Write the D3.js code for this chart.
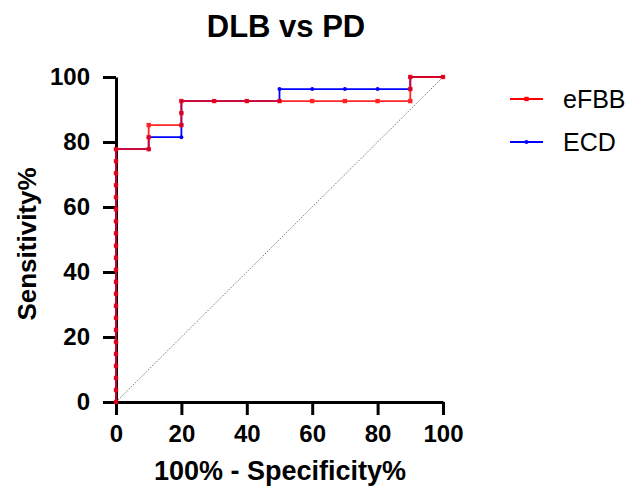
<!DOCTYPE html>
<html>
<head>
<meta charset="utf-8">
<script src="https://cdn.jsdelivr.net/npm/d3@7"></script>
<style>
  body { margin: 0; background: #fff; }
  text { font-family: "Liberation Sans", Arial, sans-serif; }
</style>
</head>
<body>
<div id="container"></div>
<script>
// data declaration
const w = 632;
const h = 487;
const margin = {top: 77, right: 189, bottom: 85, left: 116};
const xTicks = [0, 20, 40, 60, 80, 100];
const yTicks = [0, 20, 40, 60, 80, 100];

// eFBB: 100% - specificity, sensitivity
const efbbX = [0,0,0,0,0,0,0,0,0,0,0,0,0,0,0,0,0,0,0,0,0,0,10,10,10,20,20,20,30,40,50,60,70,80,90,90,90,100];
const efbbY = [0,3.7,7.4,11.1,14.8,18.5,22.2,25.9,29.6,33.3,37.0,40.7,44.4,48.1,51.9,55.6,59.3,63.0,66.7,70.4,74.1,77.8,77.8,81.5,85.2,85.2,88.9,92.6,92.6,92.6,92.6,92.6,92.6,92.6,92.6,96.3,100,100];

// ECD
const ecdX = [0,0,0,0,0,0,0,0,0,0,0,0,0,0,0,0,0,0,0,0,0,0,10,10,20,20,20,20,30,40,50,50,60,70,80,90,90,100];
const ecdY = [0,3.7,7.4,11.1,14.8,18.5,22.2,25.9,29.6,33.3,37.0,40.7,44.4,48.1,51.9,55.6,59.3,63.0,66.7,70.4,74.1,77.8,77.8,81.5,81.5,85.2,88.9,92.6,92.6,92.6,92.6,96.3,96.3,96.3,96.3,96.3,100,100];

const series = [
  {name: "ECD", color: "#0000ff", marker: "circle", xs: ecdX, ys: ecdY},
  {name: "eFBB", color: "#ff0000", marker: "square", xs: efbbX, ys: efbbY}
];
const legendOrder = ["eFBB", "ECD"];

const svg = d3.select("#container").append("svg").attr("width", w).attr("height", h);

const iw = w - margin.left - margin.right;
const ih = h - margin.top - margin.bottom;

const xScale = d3.scaleLinear().domain([0, 100]).range([margin.left, margin.left + iw]);
const yScale = d3.scaleLinear().domain([0, 100]).range([margin.top + ih, margin.top]);

// title
svg.append("text")
  .attr("x", 286).attr("y", 37)
  .attr("text-anchor", "middle")
  .style("font-size", "31px").style("font-weight", "bold")
  .text("DLB vs PD");

// diagonal reference line
svg.append("line")
  .attr("x1", xScale(0)).attr("y1", yScale(0))
  .attr("x2", xScale(100)).attr("y2", yScale(100))
  .style("stroke", "#777").style("stroke-width", 1)
  .style("stroke-dasharray", "1.5,1.5");

// axes
const xAxis = d3.axisBottom(xScale).tickValues(xTicks).tickSize(13).tickSizeOuter(0).tickPadding(10);
const yAxis = d3.axisLeft(yScale).tickValues(yTicks).tickSize(13).tickSizeOuter(0).tickPadding(13);

const gx = svg.append("g").attr("transform", "translate(0," + yScale(0) + ")").call(xAxis);
const gy = svg.append("g").attr("transform", "translate(" + xScale(0) + ",0)").call(yAxis);

[gx, gy].forEach(g => {
  g.select(".domain").style("stroke", "#000").style("stroke-width", 3);
  g.selectAll(".tick line").style("stroke", "#000").style("stroke-width", 3);
  g.selectAll(".tick text")
    .style("font-size", "24px").style("font-weight", "bold")
    .style("font-family", "'Liberation Sans', Arial, sans-serif")
    .style("fill", "#000");
});

// axis labels
svg.append("text")
  .attr("x", 280).attr("y", 480)
  .attr("text-anchor", "middle")
  .style("font-size", "27px").style("font-weight", "bold")
  .text("100% - Specificity%");

svg.append("text")
  .attr("transform", "translate(36,244) rotate(-90)")
  .attr("text-anchor", "middle")
  .style("font-size", "26px").style("font-weight", "bold")
  .text("Sensitivity%");

// curves
const line = d3.line().curve(d3.curveLinear);

series.forEach(s => {
  const pts = s.xs.map((x, i) => [xScale(x), yScale(s.ys[i])]);
  const g = svg.append("g").style("opacity", s.name === "eFBB" ? 0.85 : 1);
  g.append("path")
    .attr("d", line(pts))
    .style("fill", "none")
    .style("stroke", s.color)
    .style("stroke-width", 1.8);
  if (s.marker === "circle") {
    g.selectAll("circle").data(pts).enter().append("circle")
      .attr("cx", d => d[0]).attr("cy", d => d[1]).attr("r", 2)
      .style("fill", s.color);
  } else {
    g.selectAll("rect").data(pts).enter().append("rect")
      .attr("x", d => d[0] - 2.2).attr("y", d => d[1] - 2.2)
      .attr("width", 4.4).attr("height", 4.4)
      .style("fill", s.color);
  }
});

// legend
const legend = svg.append("g");
legendOrder.forEach((name, i) => {
  const s = series.find(d => d.name === name);
  const ly = 99 + i * 43;
  legend.append("line")
    .attr("x1", 510).attr("x2", 543).attr("y1", ly).attr("y2", ly)
    .style("stroke", s.color).style("stroke-width", 1.8);
  if (s.marker === "circle") {
    legend.append("circle").attr("cx", 526.5).attr("cy", ly).attr("r", 2).style("fill", s.color);
  } else {
    legend.append("rect").attr("x", 524.3).attr("y", ly - 2.2).attr("width", 4.4).attr("height", 4.4).style("fill", s.color);
  }
  legend.append("text")
    .attr("x", 563).attr("y", ly + 9)
    .style("font-size", "25px")
    .text(name);
});
</script>
</body>
</html>
